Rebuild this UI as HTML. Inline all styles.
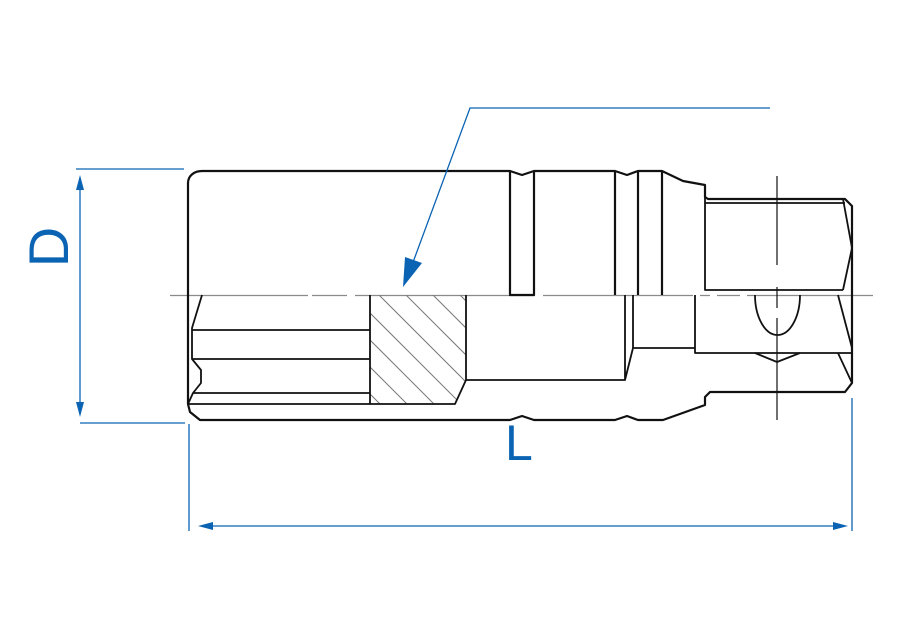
<!DOCTYPE html>
<html><head><style>html,body{margin:0;padding:0;background:#fff}svg{display:block}</style></head>
<body>
<svg width="900" height="640" viewBox="0 0 900 640" xmlns="http://www.w3.org/2000/svg">
<defs>
<clipPath id="hc"><path d="M370,295 H466 V380 L455,404 H370 Z"/></clipPath>
</defs>
<!-- centre lines -->
<g stroke="#8a8a8a" stroke-width="1.2" fill="none">
<path d="M170,295.5 H308 M312,295.5 H347 M355,295.5 H535 M543,295.5 H693 M700,295.5 H710 M717,295.5 H740 M747,295.5 H873"/>
</g>
<g stroke="#111" stroke-width="1.2" fill="none">
<path d="M777,176 V265 M777,287 V308 M777,318 V420"/>
</g>
<!-- hatch -->
<g clip-path="url(#hc)" stroke="#777" stroke-width="1">
<path d="M300,270 L460,430 M327,270 L487,430 M354,270 L514,430 M381,270 L541,430 M408,270 L568,430 M435,270 L595,430 M273,270 L433,430 M246,270 L406,430 M219,270 L379,430"/>
</g>
<!-- main outline -->
<g stroke="#111" stroke-width="2.2" fill="none" stroke-linejoin="round">
<path d="M202,171 H510 L522,175 L534,171 H615 L627,175 L638,171 H662 L683,181 L705,185 V197 L708,199 H845 L852,206 V383 L845,392 H710 L705,397 V405 L663,420 H638 L627,416 L615,420 H534 L522,416 L510,420 H200 L190,412 L188,404 V183 C188,176 194,171 202,171 Z"/>
<path d="M510,171 V295 H534 V171 M615,171 V295 M638,171 V295 M662,171 V295"/>
</g>
<g stroke="#111" stroke-width="1.8" fill="none" stroke-linejoin="round">
<path d="M705,197 V290 H843 M705,203 H845 M843,199 L852,248 L843,290"/>
<path d="M202,295 L192,328 V359 L201,370 V383 L193,393 L188,404 H455 L466,380 V295 M370,295 V404"/>
<path d="M192,330 H370 M192,359 H370 M193,393 H370"/>
<path d="M466,380 H625 L633,348 H695 M625,295 V380 M633,295 V348 M695,295 V353 H852"/>
<path d="M755,295 A22.5,40 0 0 0 800,295"/>
<path d="M755,353 L777,362 L800,353"/>
<path d="M838,295 L852,348 M838,353 L852,383"/>
</g>
<!-- blue dimensions -->
<g stroke="#0b63b3" stroke-width="1.3" fill="none">
<path d="M76,169 H184 M80,423 H185 M80,184 V408"/>
<path d="M189,424 V531 M852,398 V531 M210,526 H838"/>
<path d="M770,108 H470 L412,265"/>
</g>
<g fill="#0b63b3">
<path d="M80,175 L76,190 L84,190 Z"/>
<path d="M80,417 L76,402 L84,402 Z"/>
<path d="M198,526 L213,522 L213,530 Z"/>
<path d="M848,526 L833,522 L833,530 Z"/>
<path d="M403,287 L405,257 L422,263 Z"/>
</g>
<text x="0" y="0" transform="translate(68,247) rotate(-90)" text-anchor="middle" font-family="Liberation Sans, sans-serif" font-size="56" fill="#0b63b3">D</text>
<text x="505" y="460" font-family="Liberation Sans, sans-serif" font-size="50" fill="#0b63b3">L</text>
</svg>
</body></html>
